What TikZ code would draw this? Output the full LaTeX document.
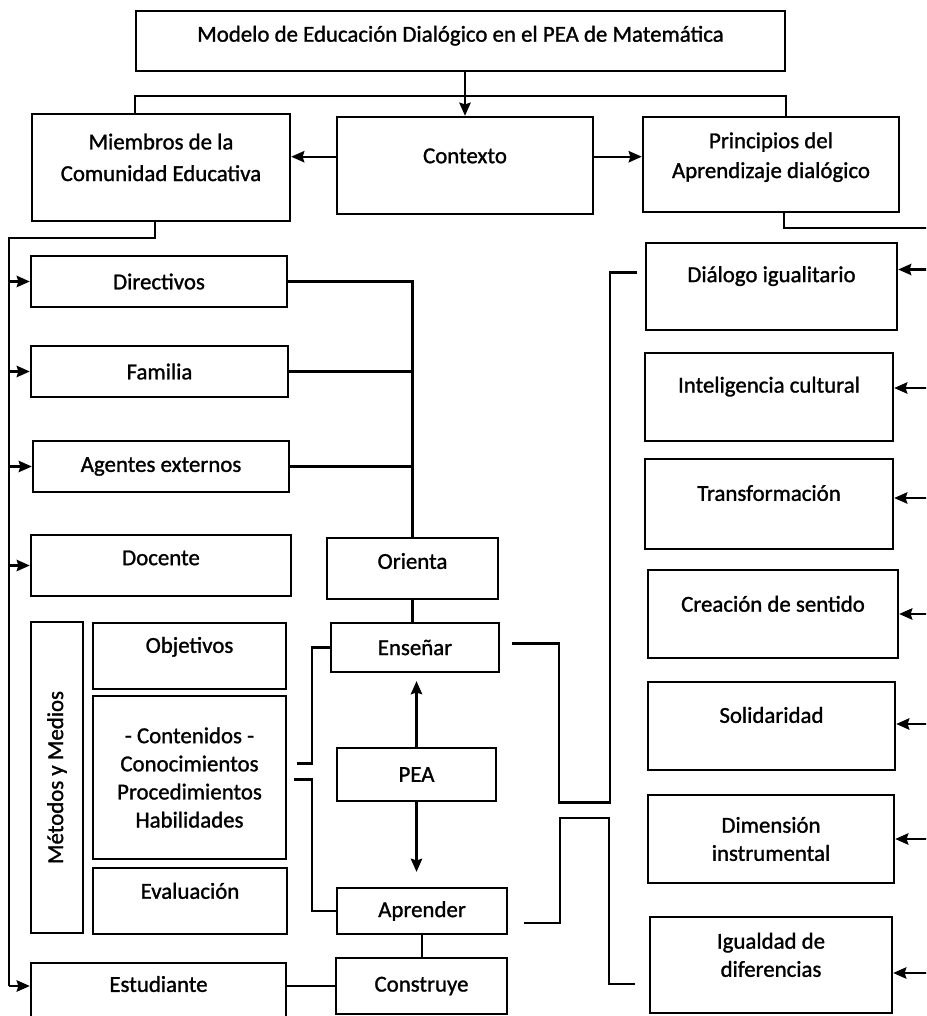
\documentclass[tikz,border=0pt]{standalone}
\usepackage{fontspec}
\setmainfont{Carlito}[FakeBold=1.2]
\usetikzlibrary{arrows.meta,calc}
\newcommand{\subir}[2]{\raisebox{#1}[\height][\depth]{\begin{tabular}{@{}c@{}}#2\end{tabular}}}

\begin{document}
\begin{tikzpicture}[x=0.02cm,y=-0.02cm,>={Stealth[length=7.5pt,width=6.5pt,inset=1pt]},
    font=\fontsize{13}{16}\selectfont,
    caja/.style={draw,line width=1.4pt,align=center,inner sep=2pt},
    enlace/.style={line width=1.25pt}]
    \useasboundingbox (0,0) rectangle (926,1016);
    \clip (0,0) rectangle (926,1016);
    % fila superior
    \node[caja,minimum width=12.98cm,minimum height=1.2cm] (modelo) at (460.5,41) {\subir{2.8pt}{Modelo de Educación Dialógico en el PEA de Matemática}};
    \node[caja,minimum width=5.16cm,minimum height=2.14cm] (miembros) at (161,167.5) {\subir{4.5pt}{Miembros de la\\[2pt]Comunidad Educativa}};
    \node[caja,minimum width=5.12cm,minimum height=1.94cm] (contexto) at (465,165.5) {\subir{4.5pt}{Contexto}};
    \node[caja,minimum width=5.12cm,minimum height=1.9cm] (principios) at (771,164.5) {\subir{4pt}{Principios del\\[1pt]Aprendizaje dialógico}};
    % miembros
    \node[caja,minimum width=5.12cm,minimum height=1.02cm] (directivos) at (159,281.5) {Directivos};
    \node[caja,minimum width=5.14cm,minimum height=1.02cm] (familia) at (159.5,371.5) {Familia};
    \node[caja,minimum width=5.12cm,minimum height=1.02cm] (agentes) at (161,466.5) {Agentes externos};
    \node[caja,minimum width=5.2cm,minimum height=1.22cm] (docente) at (161,565.5) {\subir{3.4pt}{Docente}};
    \node[caja,rotate=90,minimum width=6.22cm,minimum height=1.04cm] (metodos) at (57,777.5) {Métodos y Medios};
    \node[caja,minimum width=3.86cm,minimum height=1.32cm] (objetivos) at (189.5,656) {\subir{5pt}{Objetivos}};
    \node[caja,minimum width=3.86cm,minimum height=3.26cm] (contenidos) at (189.5,777.5) {- Contenidos -\\Conocimientos\\Procedimientos\\Habilidades};
    \node[caja,minimum width=3.88cm,minimum height=1.32cm] (evaluacion) at (190,901) {\subir{4.5pt}{Evaluación}};
    \node[caja,minimum width=5.1cm,minimum height=1.14cm] (estudiante) at (158.5,991.5) {\subir{3pt}{Estudiante}};
    % PEA
    \node[caja,minimum width=3.42cm,minimum height=1.22cm] (orienta) at (412.5,568.5) {\subir{3pt}{Orienta}};
    \node[caja,minimum width=3.36cm,minimum height=0.98cm] (ensenar) at (415,647.5) {Enseñar};
    \node[caja,minimum width=3.18cm,minimum height=1.06cm] (pea) at (416.5,774.5) {PEA};
    \node[caja,minimum width=3.4cm,minimum height=0.92cm] (aprender) at (422,911) {Aprender};
    \node[caja,minimum width=3.42cm,minimum height=1.12cm] (construye) at (421.5,986) {Construye};
    % principios
    \node[caja,minimum width=5.02cm,minimum height=1.74cm] (dialogo) at (771.5,286.5) {\subir{5.7pt}{Diálogo igualitario}};
    \node[caja,minimum width=4.96cm,minimum height=1.76cm] (inteligencia) at (769,397) {\subir{5.7pt}{Inteligencia cultural}};
    \node[caja,minimum width=4.96cm,minimum height=1.8cm] (transformacion) at (769,504) {\subir{5pt}{Transformación}};
    \node[caja,minimum width=5cm,minimum height=1.76cm] (creacion) at (773,614) {\subir{4.5pt}{Creación de sentido}};
    \node[caja,minimum width=4.94cm,minimum height=1.76cm] (solidaridad) at (771.5,726) {\subir{5pt}{Solidaridad}};
    \node[caja,minimum width=4.92cm,minimum height=1.76cm] (dimension) at (771,839) {Dimensión\\instrumental};
    \node[caja,minimum width=4.84cm,minimum height=1.92cm] (igualdad) at (771,965) {\subir{4.5pt}{Igualdad de\\diferencias}};

    % conectores
    \draw[enlace,->] (contexto.north |- modelo.south) -- (contexto.north);
    \draw[enlace] (miembros.north -| modelo.west) -- ++(0,-17) -| (principios.north -| modelo.east);
    \draw[enlace,->] ([yshift=5pt]contexto.west) coordinate (k1) -- (k1 -| miembros.east);
    \draw[enlace,->] ([yshift=5pt]contexto.east) coordinate (k2) -- (k2 -| principios.west);

    \coordinate (izq) at (9,238);
    \draw[enlace] ([xshift=-3.4pt]miembros.south) |- (izq) -- (izq |- construye);
    \foreach \n in {directivos,familia,agentes,docente}
      \draw[enlace,->] (izq |- \n.west) -- (\n.west);
    \draw[enlace,->] (izq |- construye) -- (estudiante.west |- construye);

    \draw[enlace] (directivos.east) -| (orienta.north);
    \draw[enlace] (familia.east) -- (familia.east -| orienta.north);
    \draw[enlace] (agentes.east) -- (agentes.east -| orienta.north);
    \draw[enlace] (orienta.south) -- (orienta.south |- ensenar.north);
    \draw[enlace,->,shorten >=4.5pt] (pea.north) -- (pea.north |- ensenar.south);
    \draw[enlace,->,shorten >=8.5pt] (pea.south) -- (pea.south |- aprender.north);
    \draw[enlace] (aprender.south) -- (aprender.south |- construye.north);
    \draw[enlace] (construye.west -| estudiante.east) -- (construye.west);

    \draw[enlace] ([shift={(10,-14)}]contenidos.east) -| ([shift={(-18,0)}]ensenar.west) -- (ensenar.west);
    \draw[enlace] ([shift={(7,2)}]contenidos.east) -| ([shift={(-24,0)}]aprender.west) -- (aprender.west);

    \draw[enlace] ([shift={(12,-4)}]ensenar.east) -- ++(47,0) -- ++(0,159) -- ++(51,0) |- ([shift={(-8,-14)}]dialogo.west);
    \draw[enlace] ([shift={(16,12)}]aprender.east) -- ++(36,0) -- ++(0,-105) -- ++(49,0) |- ([shift={(-14,19)}]igualdad.west);

    \coordinate (der) at (932,228);
    \draw[enlace] ([shift={(13,0)}]principios.south) |- (der) -- ++(0,760);
    \foreach \n/\dy in {dialogo/-17,inteligencia/-9,transformacion/-6,creacion/0,solidaridad/-2,dimension/0,igualdad/8}
      \draw[enlace,<-] ([shift={(0,\dy)}]\n.east) coordinate (t) -- (t -| der);
\end{tikzpicture}
\end{document}
